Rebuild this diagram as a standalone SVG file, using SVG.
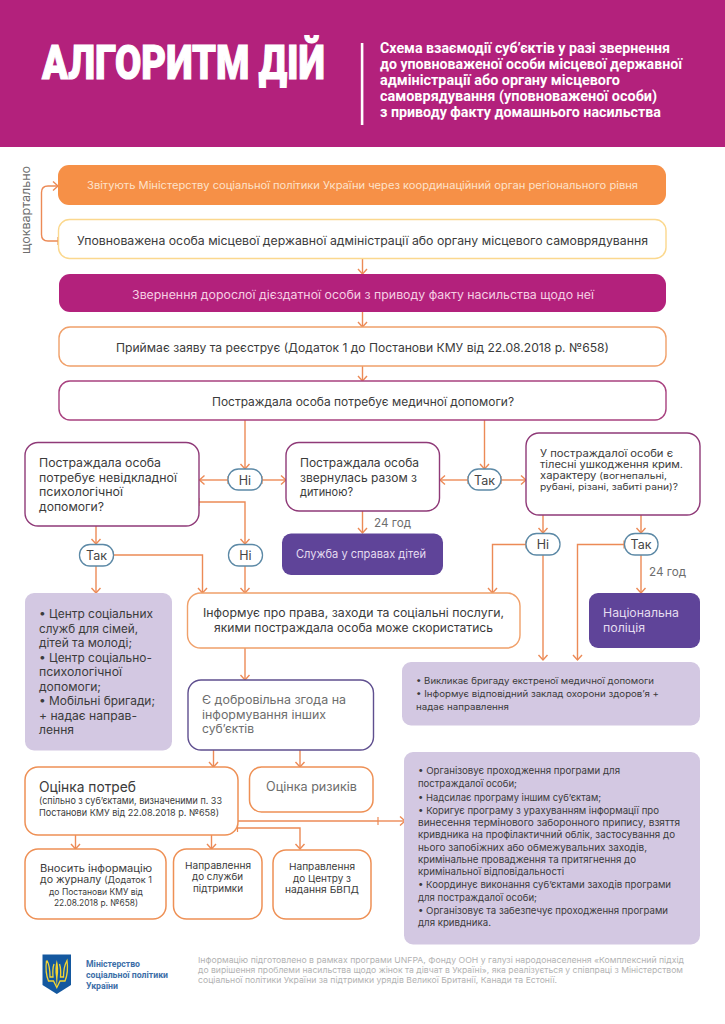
<svg xmlns="http://www.w3.org/2000/svg" width="725" height="1024" viewBox="0 0 725 1024">
<style>
text{font-family:"Inter","Noto Sans","Liberation Sans",sans-serif;fill:#3b3b3b;font-size:11.5px}
.box{fill:#fff;stroke-width:1.4}
.org{stroke:#f0a06a}.yel{stroke:#fbd88e}.mag{stroke:#a8417f;}.dmag{stroke:#8f3a78}
.bor{stroke:#ee9055;stroke-width:1.5}
.lav{fill:#d3c8e2}
.vio{fill:#5f4499}
.pill{fill:#fff;stroke:#5c89a6;stroke-width:1.3}
.pt{font-size:12.500px;text-anchor:middle;fill:#444}
.s11{font-size:10.500px}.s10{font-size:9.500px}.s9{font-size:9px}.s14{font-size:14.500px}
.g{fill:#6d6d6d}
.h{font-family:"Roboto","Liberation Sans",sans-serif;font-weight:700;fill:#fff;font-size:15px}
.ft{font-size:8.200px;fill:#b2b2b2}
.min{font-family:"Roboto","Liberation Sans",sans-serif;font-size:9.600px;font-weight:700;fill:#3d6fa8}
#connectors path{fill:none;stroke:#ec8a56;stroke-width:1.4}
</style>
<defs>
<marker id="ar" markerUnits="userSpaceOnUse" markerWidth="12" markerHeight="12" refX="8" refY="6" orient="auto">
<path d="M3 1.500 L8 6 L3 10.500" fill="none" stroke="#ec8a56" stroke-width="1.400"/>
</marker>
<marker id="tk" markerUnits="userSpaceOnUse" markerWidth="4" markerHeight="10" refX="2" refY="5" orient="auto">
<path d="M2 1 V9" fill="none" stroke="#ec8a56" stroke-width="1.200"/>
</marker>
</defs>
<rect width="725" height="1024" fill="#fff"/>

<g id="header">
<rect width="725" height="147" fill="#b3217c"/>
<text x="42" y="79" textLength="283" lengthAdjust="spacingAndGlyphs" stroke="#fff" stroke-width="1.200" style="font-family:'Roboto','Liberation Sans',sans-serif;font-weight:900;font-size:48px;fill:#fff">АЛГОРИТМ ДІЙ</text>
<rect x="360.800" y="43" width="2.600" height="82" fill="#fff"/>
<text class="h" x="380" y="53" textLength="290" lengthAdjust="spacingAndGlyphs">Схема взаємодії суб’єктів у разі звернення</text>
<text class="h" x="380" y="69" textLength="302" lengthAdjust="spacingAndGlyphs">до уповноваженої особи місцевої державної</text>
<text class="h" x="380" y="85" textLength="240" lengthAdjust="spacingAndGlyphs">адміністрації або органу місцевого</text>
<text class="h" x="380" y="101" textLength="277" lengthAdjust="spacingAndGlyphs">самоврядування (уповноваженої особи)</text>
<text class="h" x="380" y="117" textLength="281" lengthAdjust="spacingAndGlyphs">з приводу факту домашнього насильства</text>
</g>

<g id="connectors">
<path d="M58 241H48Q41.500 241 41.500 234.500V192.500Q41.500 186 48 186H58" marker-start="url(#tk)" marker-end="url(#ar)"/>
<path d="M362.500 258.500V274" marker-end="url(#ar)"/>
<path d="M362.500 312V327" marker-end="url(#ar)"/>
<path d="M362.500 366V381" marker-end="url(#ar)"/>
<path d="M245 420V469" marker-end="url(#ar)"/>
<path d="M484.500 420V469" marker-end="url(#ar)"/>
<path d="M228 480H199.500" marker-start="url(#tk)" marker-end="url(#ar)"/>
<path d="M262 480H286" marker-start="url(#tk)" marker-end="url(#ar)"/>
<path d="M468 480H440" marker-start="url(#tk)" marker-end="url(#ar)"/>
<path d="M501 480H526" marker-start="url(#tk)" marker-end="url(#ar)"/>
<path d="M199 502H245V544" marker-start="url(#tk)" marker-end="url(#ar)"/>
<path d="M96 526V544" marker-end="url(#ar)"/>
<path d="M96 566V593" marker-end="url(#ar)"/>
<path d="M113 555H202.500V593" marker-start="url(#tk)" marker-end="url(#ar)"/>
<path d="M245 566V593" marker-end="url(#ar)"/>
<path d="M245 648V680" marker-end="url(#ar)"/>
<path d="M213.500 750V767" marker-end="url(#ar)"/>
<path d="M300 750V767" marker-end="url(#ar)"/>
<path d="M362.500 511V533" marker-end="url(#ar)"/>
<path d="M543 515V533" marker-end="url(#ar)"/>
<path d="M641 515V533" marker-end="url(#ar)"/>
<path d="M526 544.500H492.500V593" marker-start="url(#tk)" marker-end="url(#ar)"/>
<path d="M543 555V660" marker-end="url(#ar)"/>
<path d="M624 544.500H577.500V660" marker-start="url(#tk)" marker-end="url(#ar)"/>
<path d="M641 555V593" marker-end="url(#ar)"/>
<path d="M236.500 821H378" marker-end="url(#tk)"/>
<path d="M378 821H405" marker-end="url(#ar)"/>
<path d="M237.500 828H300V849" marker-start="url(#tk)" marker-end="url(#ar)"/>
<path d="M75.500 835V849" marker-end="url(#ar)"/>
<path d="M211.500 835V849" marker-end="url(#ar)"/>
</g>

<g id="label-quarterly">
<text transform="translate(30 254) rotate(-90)" textLength="88" lengthAdjust="spacingAndGlyphs" class="g">щоквартально</text>
</g>

<g id="n-report">
<rect x="58" y="165" width="608" height="40" rx="11" fill="#f69047"/>
<text x="87" y="189" textLength="551" lengthAdjust="spacingAndGlyphs" style="fill:#fde3cb" class="s11">Звітують Міністерству соціальної політики України через координаційний орган регіонального рівня</text>
</g>
<g id="n-authorized">
<rect class="box yel" x="58.500" y="219.500" width="607.500" height="39" rx="11"/>
<text x="77" y="245" textLength="571" lengthAdjust="spacingAndGlyphs">Уповноважена особа місцевої державної адміністрації або органу місцевого самоврядування</text>
</g>
<g id="n-appeal">
<rect x="59" y="274" width="607" height="38" rx="11" fill="#b3217c"/>
<text x="132" y="299" textLength="462" lengthAdjust="spacingAndGlyphs" style="fill:#f6cfe4">Звернення дорослої дієздатної особи з приводу факту насильства щодо неї</text>
</g>
<g id="n-register">
<rect class="box org" x="59" y="327" width="607" height="39" rx="11"/>
<text x="116" y="352" textLength="493" lengthAdjust="spacingAndGlyphs">Приймає заяву та реєструє (Додаток 1 до Постанови КМУ від 22.08.2018 р. №658)</text>
</g>
<g id="n-medical">
<rect class="box mag" x="59" y="381" width="607" height="39" rx="11"/>
<text x="212" y="406" textLength="302" lengthAdjust="spacingAndGlyphs">Постраждала особа потребує медичної допомоги?</text>
</g>

<g id="n-psych">
<rect class="box dmag" x="25" y="442.500" width="174" height="83.500" rx="13"/>
<text x="39" y="467" textLength="122" lengthAdjust="spacingAndGlyphs">Постраждала особа</text>
<text x="39" y="481.500" textLength="138" lengthAdjust="spacingAndGlyphs">потребує невідкладної</text>
<text x="39" y="496" textLength="84" lengthAdjust="spacingAndGlyphs">психологічної</text>
<text x="39" y="510.500" textLength="65" lengthAdjust="spacingAndGlyphs">допомоги?</text>
</g>
<g id="n-child">
<rect class="box dmag" x="286" y="442.500" width="153.500" height="68.500" rx="13"/>
<text x="300" y="467" textLength="119" lengthAdjust="spacingAndGlyphs">Постраждала особа</text>
<text x="300" y="481.500" textLength="117" lengthAdjust="spacingAndGlyphs">звернулась разом з</text>
<text x="300" y="496" textLength="53" lengthAdjust="spacingAndGlyphs">дитиною?</text>
</g>
<g id="n-injury">
<rect class="box dmag" x="526" y="433" width="174" height="82" rx="13"/>
<text x="540" y="456.500" textLength="133" lengthAdjust="spacingAndGlyphs" style="font-size:9.800px">У постраждалої особи є</text>
<text x="540" y="467.500" textLength="143" lengthAdjust="spacingAndGlyphs" style="font-size:9.800px">тілесні ушкодження крим.</text>
<text x="540" y="478.500" textLength="127" lengthAdjust="spacingAndGlyphs" class="s9"><tspan style="font-size:9.800px">характеру</tspan> (вогнепальні,</text>
<text x="540" y="489.500" textLength="138" lengthAdjust="spacingAndGlyphs" class="s9">рубані, різані, забиті рани)?</text>
</g>

<g id="n-no1"><rect class="pill" x="228" y="469" width="34" height="21" rx="10.500"/><text class="pt" x="245" y="484.500">Ні</text></g>
<g id="n-yes1"><rect class="pill" x="468" y="469" width="33" height="21" rx="10.500"/><text class="pt" x="484.500" y="484.500">Так</text></g>
<g id="n-yes2"><rect class="pill" x="79.500" y="544.500" width="34" height="21.500" rx="10.500"/><text class="pt" x="96.500" y="560">Так</text></g>
<g id="n-no2"><rect class="pill" x="228.500" y="544.500" width="34" height="21.500" rx="10.500"/><text class="pt" x="245.500" y="560">Ні</text></g>
<g id="n-no3"><rect class="pill" x="526" y="533.500" width="34" height="21.500" rx="10.500"/><text class="pt" x="543" y="549">Ні</text></g>
<g id="n-yes3"><rect class="pill" x="624.500" y="533.500" width="33.500" height="21.500" rx="10.500"/><text class="pt" x="641" y="549">Так</text></g>

<g id="label-24a"><text x="374" y="527" textLength="37" lengthAdjust="spacingAndGlyphs" class="g">24 год</text></g>
<g id="label-24b"><text x="649" y="576" textLength="37" lengthAdjust="spacingAndGlyphs" class="g">24 год</text></g>

<g id="n-children-service">
<rect class="vio" x="282" y="533.500" width="161" height="41.500" rx="9"/>
<text x="296" y="558" textLength="130" lengthAdjust="spacingAndGlyphs" style="fill:#e4dcf0">Служба у справах дітей</text>
</g>
<g id="n-police">
<rect class="vio" x="589" y="593" width="111" height="55" rx="9"/>
<text x="603" y="617" textLength="76" lengthAdjust="spacingAndGlyphs" style="fill:#e4dcf0">Національна</text>
<text x="603" y="632" textLength="42" lengthAdjust="spacingAndGlyphs" style="fill:#e4dcf0">поліція</text>
</g>

<g id="n-centers">
<rect class="lav" x="25" y="593" width="147" height="157.500" rx="9"/>
<text x="39" y="618" textLength="114" lengthAdjust="spacingAndGlyphs">• Центр соціальних</text>
<text x="39" y="632.500" textLength="99" lengthAdjust="spacingAndGlyphs">служб для сімей,</text>
<text x="39" y="647" textLength="93" lengthAdjust="spacingAndGlyphs">дітей та молоді;</text>
<text x="39" y="661.500" textLength="113" lengthAdjust="spacingAndGlyphs">• Центр соціально-</text>
<text x="39" y="676" textLength="83" lengthAdjust="spacingAndGlyphs">психологічної</text>
<text x="39" y="690.500" textLength="62" lengthAdjust="spacingAndGlyphs">допомоги;</text>
<text x="39" y="705" textLength="116" lengthAdjust="spacingAndGlyphs">• Мобільні бригади;</text>
<text x="39" y="719.500" textLength="98" lengthAdjust="spacingAndGlyphs">+ надає направ-</text>
<text x="39" y="734" textLength="35" lengthAdjust="spacingAndGlyphs">лення</text>
</g>
<g id="n-inform">
<rect class="box org" x="187.500" y="593" width="332.500" height="55" rx="13"/>
<text x="203" y="617" textLength="301" lengthAdjust="spacingAndGlyphs">Інформує про права, заходи та соціальні послуги,</text>
<text x="214" y="632" textLength="279" lengthAdjust="spacingAndGlyphs">якими постраждала особа може скористатись</text>
</g>
<g id="n-emergency">
<rect class="lav" x="402" y="662" width="298" height="63.500" rx="9"/>
<text x="416" y="684" textLength="238" lengthAdjust="spacingAndGlyphs" class="s9">• Викликає бригаду екстреної медичної допомоги</text>
<text x="416" y="697" textLength="243" lengthAdjust="spacingAndGlyphs" class="s9">• Інформує відповідний заклад охорони здоров’я +</text>
<text x="416" y="709.500" textLength="93" lengthAdjust="spacingAndGlyphs" class="s9">надає направлення</text>
</g>
<g id="n-consent">
<rect class="box" style="stroke:#5f4f8f" x="188" y="680" width="185.500" height="70" rx="13"/>
<text x="202" y="704" textLength="144" lengthAdjust="spacingAndGlyphs" class="g">Є добровільна згода на</text>
<text x="202" y="718.500" textLength="124" lengthAdjust="spacingAndGlyphs" class="g">інформування інших</text>
<text x="202" y="733" textLength="52" lengthAdjust="spacingAndGlyphs" class="g">суб’єктів</text>
</g>
<g id="n-needs">
<rect class="box bor" x="25" y="767" width="213" height="68" rx="13"/>
<text x="39" y="791.500" textLength="97" lengthAdjust="spacingAndGlyphs" class="s14">Оцінка потреб</text>
<text x="39" y="803.500" textLength="183" lengthAdjust="spacingAndGlyphs" class="s10">(спільно з суб’єктами, визначеними п. 33</text>
<text x="39" y="815.500" textLength="180" lengthAdjust="spacingAndGlyphs" class="s10">Постанови КМУ від 22.08.2018 р. №658)</text>
</g>
<g id="n-risks">
<rect class="box bor" x="249.500" y="767" width="123.500" height="45" rx="12"/>
<text x="266" y="791" textLength="91" lengthAdjust="spacingAndGlyphs" class="g" style="font-size:12.500px">Оцінка ризиків</text>
</g>
<g id="n-program">
<rect class="lav" x="404" y="752" width="296" height="192.500" rx="9"/>
<text class="s10" x="418" y="774" textLength="202" lengthAdjust="spacingAndGlyphs">• Організовує проходження програми для</text>
<text class="s10" x="418" y="787" textLength="99" lengthAdjust="spacingAndGlyphs">постраждалої особи;</text>
<text class="s10" x="418" y="801" textLength="183" lengthAdjust="spacingAndGlyphs">• Надсилає програму іншим суб’єктам;</text>
<text class="s10" x="418" y="814" textLength="241" lengthAdjust="spacingAndGlyphs">• Коригує програму з урахуванням інформації про</text>
<text class="s10" x="418" y="826" textLength="262" lengthAdjust="spacingAndGlyphs">винесення термінового заборонного припису, взяття</text>
<text class="s10" x="418" y="838" textLength="257" lengthAdjust="spacingAndGlyphs">кривдника на профілактичний облік, застосування до</text>
<text class="s10" x="418" y="850.500" textLength="229" lengthAdjust="spacingAndGlyphs">нього запобіжних або обмежувальних заходів,</text>
<text class="s10" x="418" y="863" textLength="218" lengthAdjust="spacingAndGlyphs">кримінальне провадження та притягнення до</text>
<text class="s10" x="418" y="875" textLength="146" lengthAdjust="spacingAndGlyphs">кримінальної відповідальності</text>
<text class="s10" x="418" y="888" textLength="253" lengthAdjust="spacingAndGlyphs">• Координує виконання суб’єктами заходів програми</text>
<text class="s10" x="418" y="901" textLength="119" lengthAdjust="spacingAndGlyphs">для постраждалої особи;</text>
<text class="s10" x="418" y="914" textLength="250" lengthAdjust="spacingAndGlyphs">• Організовує та забезпечує проходження програми</text>
<text class="s10" x="418" y="926" textLength="73" lengthAdjust="spacingAndGlyphs">для кривдника.</text>
</g>
<g id="n-journal">
<rect class="box bor" x="25" y="849" width="141" height="70" rx="13"/>
<text x="40" y="871.500" textLength="112" lengthAdjust="spacingAndGlyphs" style="font-size:10.500px">Вносить інформацію</text>
<text x="40" y="883" textLength="112" lengthAdjust="spacingAndGlyphs" style="font-size:10.500px">до журналу <tspan class="s9">(Додаток 1</tspan></text>
<text x="49" y="894.500" textLength="94" lengthAdjust="spacingAndGlyphs" class="s9">до Постанови КМУ від</text>
<text x="54" y="905.500" textLength="84" lengthAdjust="spacingAndGlyphs" class="s9">22.08.2018 р. №658)</text>
</g>
<g id="n-support">
<rect class="box bor" x="173.500" y="849" width="88.500" height="70" rx="13"/>
<text x="185" y="868.500" textLength="66" lengthAdjust="spacingAndGlyphs" class="s10">Направлення</text>
<text x="192" y="880" textLength="51" lengthAdjust="spacingAndGlyphs" class="s10">до служби</text>
<text x="193" y="891.500" textLength="50" lengthAdjust="spacingAndGlyphs" class="s10">підтримки</text>
</g>
<g id="n-legal">
<rect class="box bor" x="273" y="850" width="98" height="69" rx="13"/>
<text x="289" y="870" textLength="66" lengthAdjust="spacingAndGlyphs" class="s10">Направлення</text>
<text x="293" y="881.500" textLength="58" lengthAdjust="spacingAndGlyphs" class="s10">до Центру з</text>
<text x="285" y="893" textLength="74" lengthAdjust="spacingAndGlyphs" class="s10">надання БВПД</text>
</g>

<g id="logo">
<path d="M42.500 954.500H71V985L56.800 994L42.500 985Z" fill="#14589f"/>
<path d="M56.800 960C55.300 965 55 971 56 977L56.800 987L57.600 977C58.600 971 58.300 965 56.800 960Z" fill="#f4d532"/>
<path d="M46.500 960.500C45.500 968 46 975 48.500 981H53.500L56.800 987.500L60.100 981H65C67.500 975 68 968 67 960.500C64.500 965 63.500 970 63.500 977H60.500C61 971 60.500 967 59.500 964M47 960.500C49.500 965 50 970 50 977H53C52.500 971 53 967 54 964" fill="none" stroke="#f4d532" stroke-width="1.300"/>
<text class="min" x="86" y="967" textLength="54" lengthAdjust="spacingAndGlyphs">Міністерство</text>
<text class="min" x="86" y="978" textLength="82" lengthAdjust="spacingAndGlyphs">соціальної політики</text>
<text class="min" x="86" y="988.500" textLength="32" lengthAdjust="spacingAndGlyphs">України</text>
</g>
<g id="footer">
<text class="ft" x="198" y="963" textLength="486" lengthAdjust="spacingAndGlyphs">Інформацію підготовлено в рамках програми UNFPA, Фонду ООН у галузі народонаселення «Комплексний підхід</text>
<text class="ft" x="198" y="973" textLength="485" lengthAdjust="spacingAndGlyphs">до вирішення проблеми насильства щодо жінок та дівчат в Україні», яка реалізується у співпраці з Міністерством</text>
<text class="ft" x="198" y="983" textLength="359" lengthAdjust="spacingAndGlyphs">соціальної політики України за підтримки урядів Великої Британії, Канади та Естонії.</text>
</g>
</svg>
